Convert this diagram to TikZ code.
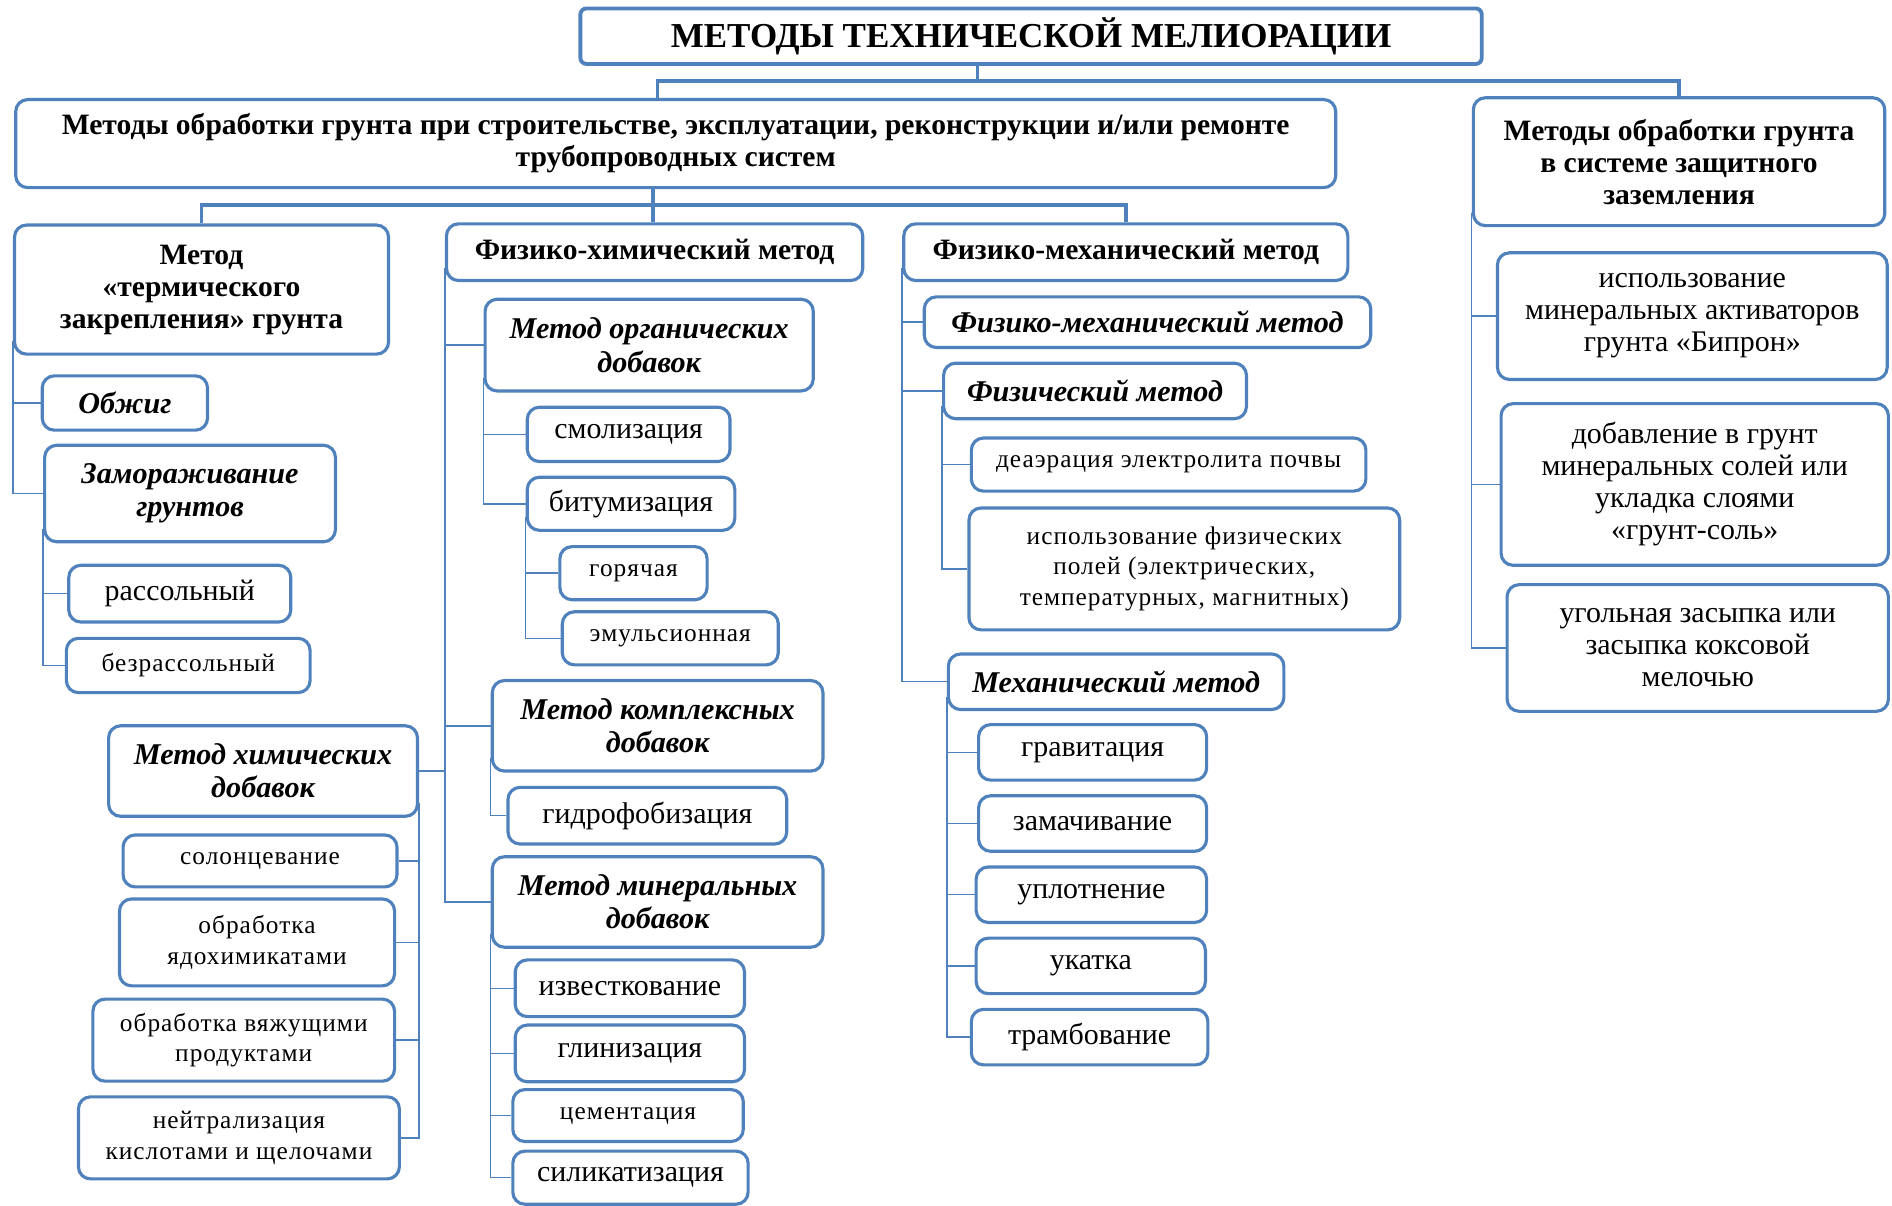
\documentclass[tikz,border=0pt]{standalone}
\usepackage{fontspec}
\setmainfont{Liberation Serif}
\newfontfamily\spacedrm[LetterSpace=4]{Liberation Serif}
\usetikzlibrary{positioning}
\definecolor{boxblue}{RGB}{79,129,189}
\tikzset{
  box/.style     ={draw=boxblue, line width=2.6pt, rounded corners=10pt,
                   fill=white, align=center, inner sep=2pt, text=black},
  sz/.style 2 args={minimum width=#1, minimum height=#2},
  titlebox/.style={box, line width=3.2pt, rounded corners=5pt,
                   font=\fontsize{29}{33}\selectfont\bfseries},
  headbox/.style ={box, font=\fontsize{24.5}{26.5}\selectfont\bfseries},
  methbox/.style ={box, font=\fontsize{25}{27.5}\selectfont\bfseries\itshape},
  leaf/.style    ={box, font=\fontsize{24.8}{26.5}\selectfont},
  sleaf/.style   ={box, font=\spacedrm\fontsize{21}{25.5}\selectfont},
  trunk/.style   ={draw=boxblue, line width=3pt},
  twig/.style    ={draw=boxblue, line width=1.2pt},
}

\begin{document}
\begin{tikzpicture}[x=1pt, y=-1pt]
  \useasboundingbox (0,0) rectangle (1568,999);
  % ---- top levels
  \node[titlebox, sz={747}{46}] (title) at (854.5,30) {МЕТОДЫ ТЕХНИЧЕСКОЙ МЕЛИОРАЦИИ};
  \node[headbox, sz={1094}{73}] (mA) at (560,119)
    {Методы обработки грунта при строительстве, эксплуатации, реконструкции и/или ремонте\\трубопроводных систем};
  \node[headbox, sz={341}{106}] (mB) at (1391.5,134)
    {Методы обработки грунта\\в системе защитного\\заземления};
  \node[headbox, sz={310}{107}] (thermal) at (167,240)
    {Метод\\«термического\\закрепления» грунта};
  \node[headbox, sz={345}{47}] (physchem) at (542.5,209) {Физико-химический метод};
  \node[headbox, sz={368}{47}] (physmech) at (933,209) {Физико-механический метод};
  \coordinate (j0) at (810,67);
  \coordinate (jA) at (545,67);
  \coordinate (jB) at (541,170);
  \draw[trunk] (j0 |- title.south) -- (j0);
  \draw[trunk] (jA |- mA.north) -- (jA) -| (mB.north);
  \draw[trunk] (jB |- mA.south) -- (jB |- physchem.north);
  \draw[trunk] (thermal.north) |- (jB) -| (physmech.north);

  % ---- thermal branch
  \node[methbox, sz={137}{45}] (obzhig) at (103.5,334) {Обжиг};
  \node[methbox, sz={241}{80}] (freeze) at (157.5,409) {Замораживание\\грунтов};
  \node[leaf, sz={184}{47}] (rassol) at (149,492) {рассольный};
  \node[sleaf, sz={202}{45}] (bezrassol) at (156,551.5) {безрассольный};
  \draw[twig] ([yshift=12pt]thermal.south west) |- (obzhig);
  \draw[twig] ([yshift=12pt]thermal.south west) |- (freeze);
  \draw[twig] ([yshift=12pt]freeze.south west) |- (rassol);
  \draw[twig] ([yshift=12pt]freeze.south west) |- (bezrassol);

  % ---- chemical additives
  \node[methbox, sz={256}{75}] (chem) at (218,639) {Метод химических\\добавок};
  \node[sleaf, sz={227}{43}] (solonc) at (215.5,713.5) {солонцевание};
  \node[sleaf, sz={228}{72}] (yado) at (213,781) {обработка\\ядохимикатами};
  \node[sleaf, sz={250}{68}] (vyazh) at (202,862) {обработка вяжущими\\продуктами};
  \node[sleaf, sz={266}{68}] (neitr) at (198,943) {нейтрализация\\кислотами и щелочами};
  \foreach \n in {solonc, yado, vyazh, neitr}
    \draw[twig] ([yshift=12pt]chem.south east) |- (\n);

  % ---- physico-chemical column
  \node[methbox, sz={272}{76}] (organic) at (538,286) {Метод органических\\добавок};
  \node[leaf, sz={168}{45}] (smol) at (521,360) {смолизация};
  \node[leaf, sz={172}{44}] (bitum) at (523,417.5) {битумизация};
  \node[sleaf, sz={122}{44}] (gor) at (525,475) {горячая};
  \node[sleaf, sz={179}{44}] (emul) at (555.5,529) {эмульсионная};
  \node[methbox, sz={274}{75}] (complex) at (545,601.5) {Метод комплексных\\добавок};
  \node[leaf, sz={231}{47}] (gidro) at (536.5,676) {гидрофобизация};
  \node[methbox, sz={274}{75}] (mineral) at (545,747.5) {Метод минеральных\\добавок};
  \node[leaf, sz={190}{47}] (izvest) at (522,819) {известкование};
  \node[leaf, sz={190}{47}] (glin) at (522,873) {глинизация};
  \node[sleaf, sz={191}{43}] (cement) at (520.5,924.5) {цементация};
  \node[leaf, sz={195}{44}] (silik) at (522.5,976) {силикатизация};
  \foreach \n in {organic, complex, chem, mineral}
    \draw[twig] ([yshift=12pt]physchem.south west) |- (\n);
  \draw[twig] ([yshift=12pt]organic.south west) |- (smol);
  \draw[twig] ([yshift=12pt]organic.south west) |- (bitum);
  \draw[twig] ([yshift=12pt]bitum.south west) |- (gor);
  \draw[twig] ([yshift=12pt]bitum.south west) |- (emul);
  \draw[twig] ([yshift=12pt]complex.south west) |- (gidro);
  \foreach \n in {izvest, glin, cement, silik}
    \draw[twig] ([yshift=12pt]mineral.south west) |- (\n);

  % ---- physico-mechanical column
  \node[methbox, sz={370}{42}] (pm2) at (951,267) {Физико-механический метод};
  \node[methbox, sz={251}{46}] (phys) at (907.5,324) {Физический метод};
  \node[sleaf, sz={327}{44}] (deaer) at (968.5,385) {деаэрация электролита почвы};
  \node[sleaf, sz={357}{101}] (fields) at (981.5,471.5)
    {использование физических\\полей (электрических,\\температурных, магнитных)};
  \node[methbox, sz={278}{46}] (mech) at (925,565) {Механический метод};
  \node[leaf, sz={189}{46}] (grav) at (905.5,623.5) {гравитация};
  \node[leaf, sz={189}{46}] (zamach) at (905.5,682.5) {замачивание};
  \node[leaf, sz={191}{46}] (uplot) at (904.5,741.5) {уплотнение};
  \node[leaf, sz={190}{46}] (ukat) at (904,800.5) {укатка};
  \node[leaf, sz={196}{46}] (tramb) at (903,859.5) {трамбование};
  \foreach \n in {pm2, phys, mech}
    \draw[twig] ([yshift=12pt]physmech.south west) |- (\n);
  \draw[twig] ([yshift=12pt]phys.south west) |- (deaer);
  \draw[twig] ([yshift=12pt]phys.south west) |- (fields);
  \foreach \n in {grav, zamach, uplot, ukat, tramb}
    \draw[twig] ([yshift=12pt]mech.south west) |- (\n);

  % ---- protective earthing column
  \node[leaf, sz={323}{105}] (bipron) at (1402.5,262)
    {использование\\минеральных активаторов\\грунта «Бипрон»};
  \node[leaf, sz={321}{134}] (dobav) at (1404.5,401.5)
    {добавление в грунт\\минеральных солей или\\укладка слоями\\«грунт-соль»};
  \node[leaf, sz={316}{105}] (ugol) at (1407,537)
    {угольная засыпка или\\засыпка коксовой\\мелочью};
  \foreach \n in {bipron, dobav, ugol}
    \draw[twig] ([yshift=12pt]mB.south west) |- (\n);
\end{tikzpicture}
\end{document}
